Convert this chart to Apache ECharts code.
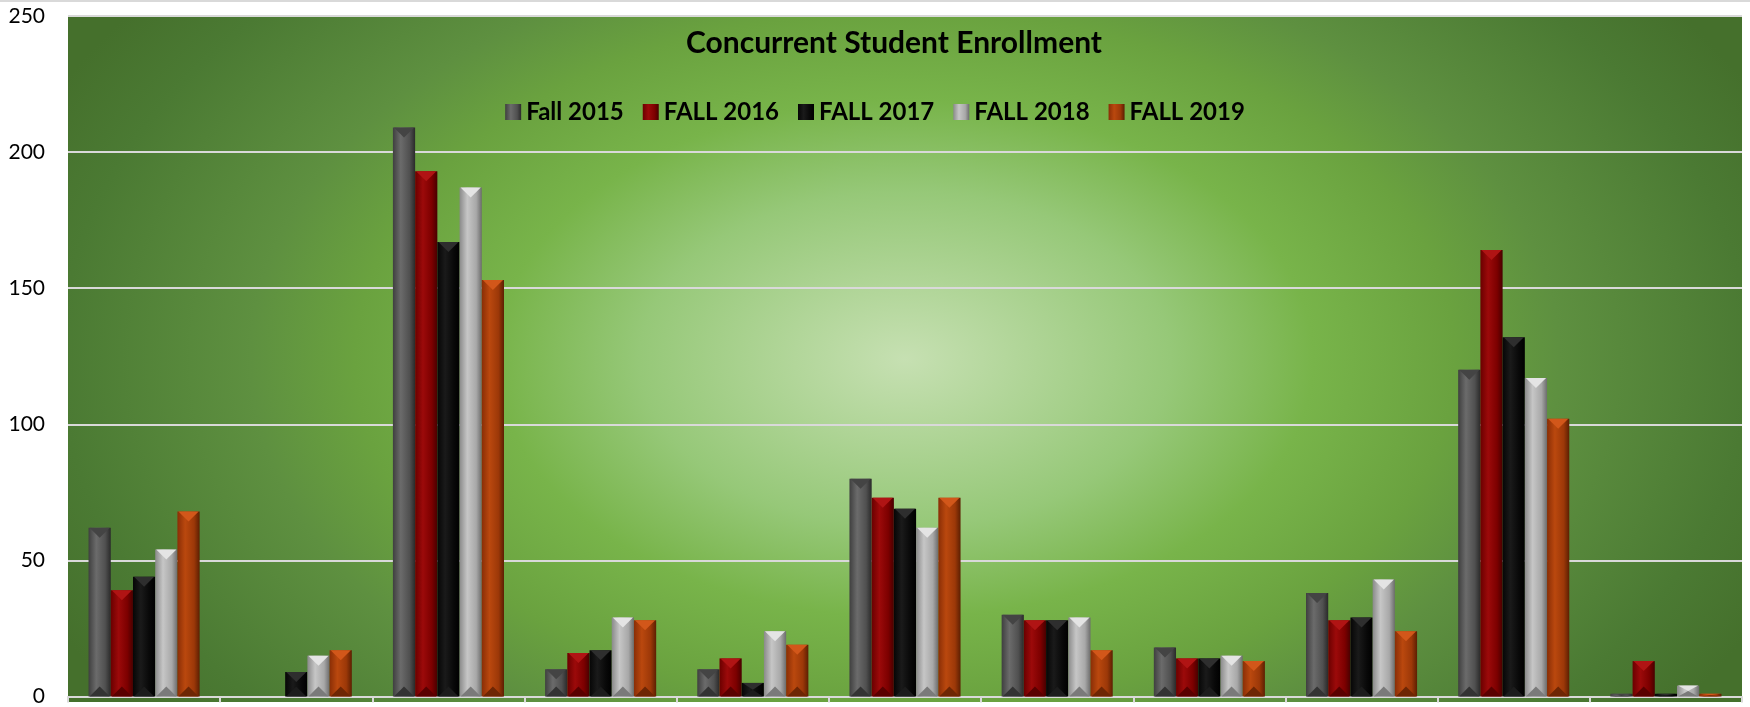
<!DOCTYPE html>
<html lang="en">
<head>
    <meta charset="UTF-8">
    <title>Concurrent Student Enrollment</title>
    <script src="https://cdn.jsdelivr.net/npm/echarts@6/dist/echarts.min.js"></script>
    <style>
        html, body { margin: 0; padding: 0; background: #fff; }
    </style>
</head>
<body>
<div id="main" style="width:1750px; height:707px;"></div>
</body>
<script type="text/javascript">

    // data (category names are cut off in the original)
    const categories = ['Site 1', 'Site 2', 'Site 3', 'Site 4', 'Site 5', 'Site 6',
                        'Site 7', 'Site 8', 'Site 9', 'Site 10', 'Site 11'];
    const seriesNames = ['Fall 2015', 'FALL 2016', 'FALL 2017', 'FALL 2018', 'FALL 2019'];
    const fall2015 = [62, 0, 209, 10, 10, 80, 30, 18, 38, 120, 1];
    const fall2016 = [39, 0, 193, 16, 14, 73, 28, 14, 28, 164, 13];
    const fall2017 = [44, 9, 167, 17, 5, 69, 28, 14, 29, 132, 1];
    const fall2018 = [54, 15, 187, 29, 24, 62, 29, 15, 43, 117, 4];
    const fall2019 = [68, 17, 153, 28, 19, 73, 17, 13, 24, 102, 1];
    const yTicks = [0, 50, 100, 150, 200, 250];

    const allValues = [fall2015, fall2016, fall2017, fall2018, fall2019];

    // bar look: body gradient, top bevel and bottom bevel colours
    const palettes = [
        { stops: ['#3f3f3f', '#6b6b6b', '#505050', '#2a2a2a'], top: '#444444', bottom: '#333333' },
        { stops: ['#6b0000', '#9c0a0a', '#7c0000', '#480000'], top: '#b01414', bottom: '#5a0000' },
        { stops: ['#060606', '#1a1a1a', '#080808', '#000000'], top: '#2e2e2e', bottom: '#1c1c1c' },
        { stops: ['#8a8a8a', '#c6c6c6', '#a8a8a8', '#6c6c6c'], top: '#e4e4e4', bottom: '#7a7a7a' },
        { stops: ['#8a2e06', '#ba480e', '#9c3808', '#5c1f02'], top: '#d2571a', bottom: '#6e2604' }
    ];
    const GAP = 0.27;

    function bodyGradient(p) {
        return new echarts.graphic.LinearGradient(0, 0, 1, 0, [
            { offset: 0, color: p.stops[0] },
            { offset: 0.35, color: p.stops[1] },
            { offset: 0.75, color: p.stops[2] },
            { offset: 1, color: p.stops[3] }
        ]);
    }

    function makeRender(sIdx) {
        return function (params, api) {
            const ci = api.value(0);
            const v = api.value(1);
            if (!v) return;
            const band = api.size([1, 0])[0];
            const groupW = band * (1 - GAP);
            const bw = groupW / 5;
            const base = api.coord([ci, 0]);
            const top = api.coord([ci, v]);
            const x = base[0] - groupW / 2 + sIdx * bw;
            const y = top[1];
            const h = base[1] - top[1];
            const bev = Math.min(bw * 0.45, h / 2);
            const p = palettes[sIdx];
            return {
                type: 'group',
                children: [
                    { type: 'rect', shape: { x: x, y: y, width: bw, height: h },
                      style: { fill: bodyGradient(p) } },
                    { type: 'polygon', shape: { points: [[x + 1, y], [x + bw - 1, y], [x + bw / 2, y + bev]] },
                      style: { fill: p.top } },
                    { type: 'polygon', shape: { points: [[x + 1, y + h], [x + bw - 1, y + h], [x + bw / 2, y + h - bev]] },
                      style: { fill: p.bottom } }
                ]
            };
        };
    }

    let myChart = echarts.init(document.getElementById('main'));

    const series = seriesNames.map(function (name, s) {
        return {
            name: name,
            type: 'custom',
            renderItem: makeRender(s),
            itemStyle: { color: bodyGradient(palettes[s]) },
            encode: { x: 0, y: 1 },
            data: allValues[s].map(function (v, i) { return [i, v]; }),
            z: 3
        };
    });

    let option = {
        backgroundColor: '#ffffff',
        textStyle: { fontFamily: 'Lato' },
        title: {
            text: 'Concurrent Student Enrollment',
            left: 686,
            top: 28,
            padding: 0,
            textStyle: { fontFamily: 'Lato', fontWeight: 'bold', fontSize: 30, color: '#000' }
        },
        legend: {
            data: seriesNames,
            left: 'center',
            top: 100,
            padding: 0,
            icon: 'rect',
            itemWidth: 16,
            itemHeight: 16,
            itemGap: 19,
            textStyle: { fontFamily: 'Lato', fontWeight: 'bold', fontSize: 24, color: '#000' }
        },
        graphic: [
            // thin grey border strip along the top of the chart area
            { type: 'rect', left: 0, top: 0, z: 10, shape: { width: 1750, height: 2 },
              style: { fill: '#d9d9d9' } },
            // plot background: elliptical radial green gradient
            { type: 'rect', x: 68, y: 16, scaleX: 1.58, z: -10,
              shape: { x: 0, y: 0, width: 1059.5, height: 686 },
              style: {
                  fill: new echarts.graphic.RadialGradient(0.5, 0.5, 0.875, [
                      { offset: 0, color: '#c6e0b2' },
                      { offset: 0.28, color: '#96c878' },
                      { offset: 0.43, color: '#78b44a' },
                      { offset: 0.58, color: '#6aa23f' },
                      { offset: 0.69, color: '#5e9040' },
                      { offset: 0.89, color: '#4b7a33' },
                      { offset: 1, color: '#45702c' }
                  ])
              } }
        ],
        grid: {
            left: 68,
            right: 8,
            top: 16,
            bottom: 5
        },
        xAxis: {
            type: 'category',
            data: categories,
            axisLine: { lineStyle: { color: '#d9d9d9', width: 2 } },
            axisTick: { show: true, length: 6, lineStyle: { color: '#d9d9d9', width: 2 } },
            axisLabel: { show: false },
            splitLine: { show: false }
        },
        yAxis: {
            type: 'value',
            min: yTicks[0],
            max: yTicks[yTicks.length - 1],
            interval: yTicks[1] - yTicks[0],
            axisLine: { show: false },
            axisTick: { show: false },
            axisLabel: { fontFamily: 'Lato', fontSize: 21, color: '#000', margin: 23 },
            splitLine: { lineStyle: { color: '#d9d9d9', width: 2 } }
        },
        series: series
    };

    myChart.setOption(option);
</script>
</html>
